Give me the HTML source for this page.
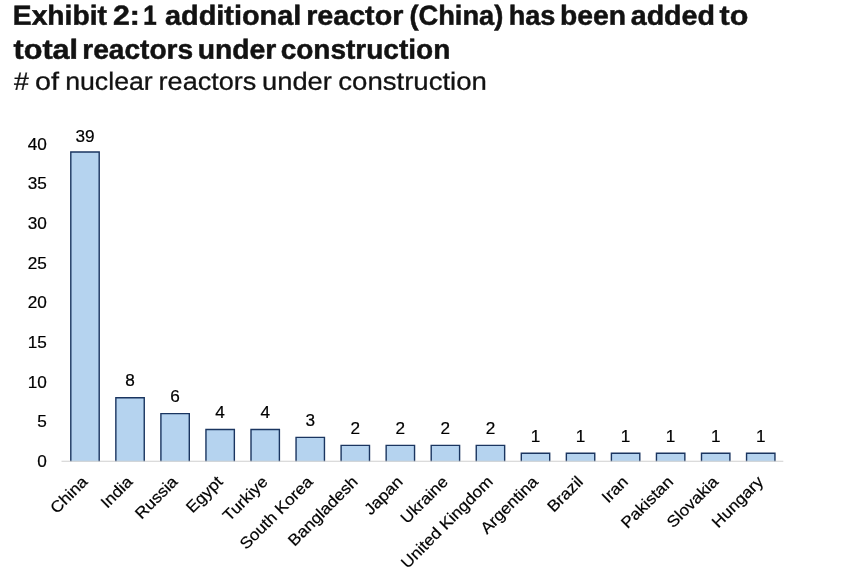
<!DOCTYPE html>
<html><head><meta charset="utf-8"><title>Exhibit 2</title>
<style>
html,body{margin:0;padding:0;background:#fff;}
body{width:864px;height:578px;overflow:hidden;position:relative;font-family:"Liberation Sans",sans-serif;color:#111;}
svg{position:absolute;left:0;top:0;display:block;}
.t{font-family:"Liberation Sans",sans-serif;font-weight:700;font-size:27.5px;fill:#121212;stroke:#121212;stroke-width:0.5;}
.s{font-family:"Liberation Sans",sans-serif;font-weight:400;font-size:25.0px;fill:#121212;stroke:#121212;stroke-width:0.3;}
.a{font-family:"Liberation Sans",sans-serif;font-size:16px;fill:#000;stroke:#000;stroke-width:0.2;}
.bar{fill:#b5d3ef;stroke:#1a3560;stroke-width:1.4;}
</style></head><body>
<svg width="864" height="578" viewBox="0 0 864 578">
<rect width="864" height="578" fill="#fff"/>
<text class="t" transform="translate(12.82,24.7) rotate(0.05) scale(1.0269,1)">Exhibit</text>
<text class="t" transform="translate(112.96,24.7) rotate(0.05) scale(1.1003,1)">2:</text>
<text class="t" transform="translate(143.30,24.7) rotate(0.05) scale(0.8800,1)">1</text>
<text class="t" transform="translate(164.95,24.7) rotate(0.05) scale(1.0510,1)">additional</text>
<text class="t" transform="translate(306.14,24.7) rotate(0.05) scale(1.0431,1)">reactor</text>
<text class="t" transform="translate(409.39,24.7) rotate(0.05) scale(0.9931,1)">(China)</text>
<text class="t" transform="translate(508.72,24.7) rotate(0.05) scale(0.9860,1)">has</text>
<text class="t" transform="translate(560.12,24.7) rotate(0.05) scale(1.0272,1)">been</text>
<text class="t" transform="translate(630.76,24.7) rotate(0.05) scale(1.0397,1)">added</text>
<text class="t" transform="translate(719.62,24.7) rotate(0.05) scale(1.1071,1)">to</text>
<text class="t" transform="translate(13.52,58.7) rotate(0.05) scale(1.1120,1)">total</text>
<text class="t" transform="translate(82.28,58.7) rotate(0.05) scale(1.0218,1)">reactors</text>
<text class="t" transform="translate(197.64,58.7) rotate(0.05) scale(1.0306,1)">under</text>
<text class="t" transform="translate(280.65,58.7) rotate(0.05) scale(1.0189,1)">construction</text>
<text class="s" transform="translate(13.96,89.7) rotate(0.05) scale(1.0637,1)">#</text>
<text class="s" transform="translate(34.99,89.7) rotate(0.05) scale(1.1500,1)">of</text>
<text class="s" transform="translate(65.17,89.7) rotate(0.05) scale(1.0684,1)">nuclear</text>
<text class="s" transform="translate(158.56,89.7) rotate(0.05) scale(1.0837,1)">reactors</text>
<text class="s" transform="translate(262.02,89.7) rotate(0.05) scale(1.0927,1)">under</text>
<text class="s" transform="translate(338.26,89.7) rotate(0.05) scale(1.1032,1)">construction</text>
<text class="a" transform="translate(46.9,467.0) scale(1.075,1)" text-anchor="end">0</text>
<text class="a" transform="translate(46.9,427.4) scale(1.075,1)" text-anchor="end">5</text>
<text class="a" transform="translate(46.9,387.7) scale(1.075,1)" text-anchor="end">10</text>
<text class="a" transform="translate(46.9,348.1) scale(1.075,1)" text-anchor="end">15</text>
<text class="a" transform="translate(46.9,308.4) scale(1.075,1)" text-anchor="end">20</text>
<text class="a" transform="translate(46.9,268.8) scale(1.075,1)" text-anchor="end">25</text>
<text class="a" transform="translate(46.9,229.1) scale(1.075,1)" text-anchor="end">30</text>
<text class="a" transform="translate(46.9,189.4) scale(1.075,1)" text-anchor="end">35</text>
<text class="a" transform="translate(46.9,149.8) scale(1.075,1)" text-anchor="end">40</text>
<path class="bar" d="M70.80,461.5V151.93H99.20V461.5"/>
<text class="a" transform="translate(85.00,141.53) scale(1.075,1)" text-anchor="middle">39</text>
<text class="a" transform="translate(88.50,482.70) rotate(-45) scale(1.075,1)" text-anchor="end">China</text>
<path class="bar" d="M115.85,461.5V397.76H144.25V461.5"/>
<text class="a" transform="translate(130.05,386.06) scale(1.075,1)" text-anchor="middle">8</text>
<text class="a" transform="translate(133.55,482.70) rotate(-45) scale(1.075,1)" text-anchor="end">India</text>
<path class="bar" d="M160.90,461.5V413.62H189.30V461.5"/>
<text class="a" transform="translate(175.10,401.92) scale(1.075,1)" text-anchor="middle">6</text>
<text class="a" transform="translate(178.60,482.70) rotate(-45) scale(1.075,1)" text-anchor="end">Russia</text>
<path class="bar" d="M205.95,461.5V429.48H234.35V461.5"/>
<text class="a" transform="translate(220.15,417.78) scale(1.075,1)" text-anchor="middle">4</text>
<text class="a" transform="translate(223.65,482.70) rotate(-45) scale(1.075,1)" text-anchor="end">Egypt</text>
<path class="bar" d="M251.00,461.5V429.48H279.40V461.5"/>
<text class="a" transform="translate(265.20,417.78) scale(1.075,1)" text-anchor="middle">4</text>
<text class="a" transform="translate(268.70,482.70) rotate(-45) scale(1.075,1)" text-anchor="end">Turkiye</text>
<path class="bar" d="M296.05,461.5V437.41H324.45V461.5"/>
<text class="a" transform="translate(310.25,425.71) scale(1.075,1)" text-anchor="middle">3</text>
<text class="a" transform="translate(313.75,482.70) rotate(-45) scale(1.075,1)" text-anchor="end">South Korea</text>
<path class="bar" d="M341.10,461.5V445.34H369.50V461.5"/>
<text class="a" transform="translate(355.30,433.64) scale(1.075,1)" text-anchor="middle">2</text>
<text class="a" transform="translate(358.80,482.70) rotate(-45) scale(1.075,1)" text-anchor="end">Bangladesh</text>
<path class="bar" d="M386.15,461.5V445.34H414.55V461.5"/>
<text class="a" transform="translate(400.35,433.64) scale(1.075,1)" text-anchor="middle">2</text>
<text class="a" transform="translate(403.85,482.70) rotate(-45) scale(1.075,1)" text-anchor="end">Japan</text>
<path class="bar" d="M431.20,461.5V445.34H459.60V461.5"/>
<text class="a" transform="translate(445.40,433.64) scale(1.075,1)" text-anchor="middle">2</text>
<text class="a" transform="translate(448.90,482.70) rotate(-45) scale(1.075,1)" text-anchor="end">Ukraine</text>
<path class="bar" d="M476.25,461.5V445.34H504.65V461.5"/>
<text class="a" transform="translate(490.45,433.64) scale(1.075,1)" text-anchor="middle">2</text>
<text class="a" transform="translate(493.95,482.70) rotate(-45) scale(1.075,1)" text-anchor="end">United Kingdom</text>
<path class="bar" d="M521.30,461.5V453.27H549.70V461.5"/>
<text class="a" transform="translate(535.50,441.57) scale(1.075,1)" text-anchor="middle">1</text>
<text class="a" transform="translate(539.00,482.70) rotate(-45) scale(1.075,1)" text-anchor="end">Argentina</text>
<path class="bar" d="M566.35,461.5V453.27H594.75V461.5"/>
<text class="a" transform="translate(580.55,441.57) scale(1.075,1)" text-anchor="middle">1</text>
<text class="a" transform="translate(584.05,482.70) rotate(-45) scale(1.075,1)" text-anchor="end">Brazil</text>
<path class="bar" d="M611.40,461.5V453.27H639.80V461.5"/>
<text class="a" transform="translate(625.60,441.57) scale(1.075,1)" text-anchor="middle">1</text>
<text class="a" transform="translate(629.10,482.70) rotate(-45) scale(1.075,1)" text-anchor="end">Iran</text>
<path class="bar" d="M656.45,461.5V453.27H684.85V461.5"/>
<text class="a" transform="translate(670.65,441.57) scale(1.075,1)" text-anchor="middle">1</text>
<text class="a" transform="translate(674.15,482.70) rotate(-45) scale(1.075,1)" text-anchor="end">Pakistan</text>
<path class="bar" d="M701.50,461.5V453.27H729.90V461.5"/>
<text class="a" transform="translate(715.70,441.57) scale(1.075,1)" text-anchor="middle">1</text>
<text class="a" transform="translate(719.20,482.70) rotate(-45) scale(1.075,1)" text-anchor="end">Slovakia</text>
<path class="bar" d="M746.55,461.5V453.27H774.95V461.5"/>
<text class="a" transform="translate(760.75,441.57) scale(1.075,1)" text-anchor="middle">1</text>
<text class="a" transform="translate(764.25,482.70) rotate(-45) scale(1.075,1)" text-anchor="end">Hungary</text>
<line x1="61.5" y1="461.3" x2="783.3" y2="461.3" stroke="#cfcfcf" stroke-width="1.1"/>
</svg></body></html>
